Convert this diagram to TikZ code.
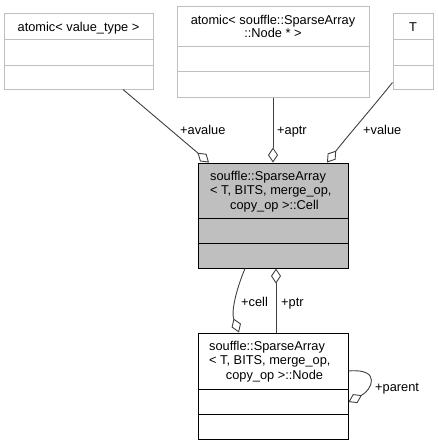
\documentclass[tikz,border=0pt]{standalone}
\usepackage{fontspec}
\setmainfont{Liberation Sans}
\usetikzlibrary{arrows.meta}
\definecolor{boxgray}{HTML}{BFBFBF}
\definecolor{edgegray}{HTML}{404040}
\definecolor{cellfill}{HTML}{BFBFBF}
\begin{document}
\begin{tikzpicture}[x=1pt,y=-1pt,
  every node/.style={font=\fontsize{12.8}{14}\selectfont, inner sep=0pt},
  graybox/.style={draw=boxgray, fill=white, line width=1pt, rectangle, inner sep=0pt},
  blackbox/.style={draw=black, line width=1pt, rectangle, inner sep=0pt},
  lbl/.style={anchor=base west},
  ctr/.style={anchor=base},
  grayline/.style={draw=boxgray, line width=1pt},
  blackline/.style={draw=black, line width=1pt},
  conn/.style={draw=edgegray, line width=0.9pt, -{Diamond[length=15pt,width=10pt,fill=white,line width=0.9pt]}}
]
\useasboundingbox (0,0) rectangle (437,445);
\fill[white] (0,0) rectangle (437,445);

% top boxes
\node[graybox, minimum width=149pt, minimum height=76pt] (av) at (78.5,51) {};
\draw[grayline] (4,39) -- (153,39) (4,65) -- (153,65);
\node[ctr] (avt) at (78.5,31) {atomic< value\_type >};

\node[graybox, minimum width=192pt, minimum height=91pt] (ap) at (273,51.5) {};
\draw[grayline] (177,46) -- (369,46) (177,71) -- (369,71);
\node[ctr] (apt1) at (273,24) {atomic< souffle::SparseArray};
\node[ctr] (apt2) at (273,37.5) {::Node * >};

\node[graybox, minimum width=40pt, minimum height=76pt] (tb) at (413,51) {};
\draw[grayline] (393,39) -- (433,39) (393,65) -- (433,65);
\node[ctr] (tt) at (413,31) {T};

% Cell box
\node[blackbox, fill=cellfill, minimum width=150pt, minimum height=105pt] (cl) at (273,215.5) {};
\draw[blackline] (198,218) -- (348,218) (198,243) -- (348,243);
\node[lbl] (ct1) at (210,180) {souffle::SparseArray};
\node[lbl] (ct2) at (210,194.5) {< T, BITS, merge\_op,};
\node[ctr] (ct3) at (274.5,209) {copy\_op >::Cell};

% Node box
\node[blackbox, fill=white, minimum width=150pt, minimum height=106pt] (nd) at (273,386) {};
\draw[blackline] (198,389) -- (348,389) (198,414) -- (348,414);
\node[lbl] (nt1) at (209,350) {souffle::SparseArray};
\node[lbl] (nt2) at (209,364.5) {< T, BITS, merge\_op,};
\node[ctr] (nt3) at (274.5,379) {copy\_op >::Node};

% connectors
\draw[conn] ([xshift=44.5pt]av.south) -- ([xshift=-64pt]cl.north);
\draw[conn] (ap.south) -- (cl.north);
\draw[conn] ([yshift=7pt]tb.south west) .. controls (372,108) and (346,138) .. ([xshift=54pt]cl.north);
\draw[conn] ([xshift=-28pt]cl.south) .. controls (236,290) and (231,312) .. ([xshift=-34pt]nd.north);
\draw[conn] ([xshift=3pt]nd.north) -- ([xshift=3pt]cl.south);
\draw[conn] ([yshift=15pt]nd.east) .. controls (382,368) and (372,390) .. ([yshift=-16pt]nd.east);

% labels
\node[lbl] (lav) at (180,134) {+avalue};
\node[lbl] (lap) at (277,134) {+aptr};
\node[lbl] (lva) at (363,134) {+value};
\node[lbl] (lce) at (241,306) {+cell};
\node[lbl] (lpt) at (281,306) {+ptr};
\node[lbl] (lpa) at (375,391) {+parent};
\end{tikzpicture}
\end{document}
